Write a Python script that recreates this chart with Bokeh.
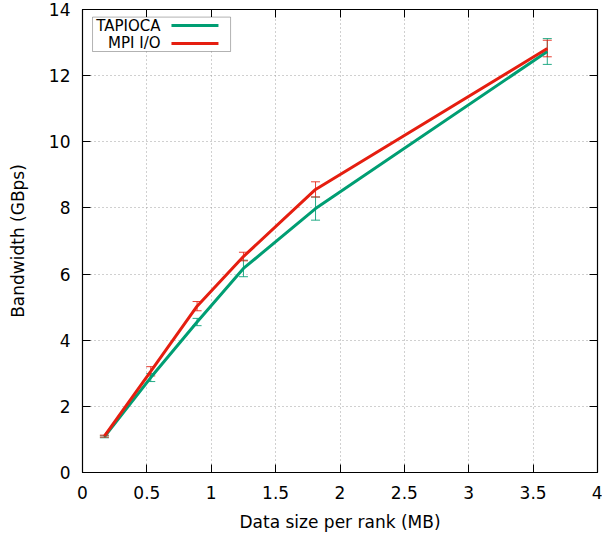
from bokeh.plotting import figure
from bokeh.models import (Whisker, TeeHead, ColumnDataSource, BoxAnnotation, Label,
                          LinearAxis, Range1d, FixedTicker, CustomJSTickFormatter)
from bokeh.embed import file_html
from bokeh.resources import INLINE

# ---- data ----
sizes_mb = [0.17, 0.53, 0.89, 1.25, 1.81, 3.61]
tapioca_bw = [1.08, 2.87, 4.55, 6.17, 7.98, 12.73]
tapioca_err = [0.03, 0.12, 0.11, 0.25, 0.35, 0.39]
mpiio_bw = [1.10, 3.06, 5.03, 6.53, 8.56, 12.82]
mpiio_err = [0.03, 0.14, 0.14, 0.13, 0.23, 0.25]
series_names = ["TAPIOCA", "MPI I/O"]
x_ticks = [0, 0.5, 1, 1.5, 2, 2.5, 3, 3.5, 4]
x_tick_labels = ["0", "0.5", "1", "1.5", "2", "2.5", "3", "3.5", "4"]
y_ticks = [0, 2, 4, 6, 8, 10, 12, 14]
y_tick_labels = ["0", "2", "4", "6", "8", "10", "12", "14"]

GREEN = "#009e73"
RED = "#e51e10"
FONT = "DejaVu Sans"
FS = "17px"
LEG_FS = "15px"

p = figure(width=602, height=539, output_backend="svg", toolbar_location=None,
           x_range=Range1d(0, 4), y_range=Range1d(0, 14),
           min_border_left=82, min_border_right=5, min_border_top=9, min_border_bottom=67,
           background_fill_color="white", border_fill_color="white")

p.outline_line_color = "black"
p.outline_line_width = 1.2

for ax in (p.xaxis[0], p.yaxis[0]):
    ax.major_tick_in = 8
    ax.major_tick_out = 0
    ax.minor_tick_line_color = None
    ax.axis_line_color = "black"
    ax.major_tick_line_color = "black"
    ax.major_label_text_font = FONT
    ax.major_label_text_font_size = FS
    ax.major_label_text_color = "black"
    ax.axis_label_text_font = FONT
    ax.axis_label_text_font_size = FS
    ax.axis_label_text_font_style = "normal"
    ax.axis_label_text_color = "black"

p.xaxis[0].ticker = FixedTicker(ticks=x_ticks)
p.xaxis[0].major_label_overrides = {t: l for t, l in zip(x_ticks, x_tick_labels)}
p.yaxis[0].ticker = FixedTicker(ticks=y_ticks)
p.yaxis[0].major_label_overrides = {t: l for t, l in zip(y_ticks, y_tick_labels)}
p.xaxis[0].axis_label = "Data size per rank (MB)"
p.yaxis[0].axis_label = "Bandwidth (GBps)"
p.xaxis[0].major_label_standoff = 13
p.xaxis[0].axis_label_standoff = 10
p.yaxis[0].major_label_standoff = 12
p.yaxis[0].axis_label_standoff = 18

# mirrored ticks (no labels)
for loc, tk in (("right", y_ticks), ("above", x_ticks)):
    a = LinearAxis(ticker=FixedTicker(ticks=tk), major_tick_in=8, major_tick_out=0,
                   minor_tick_line_color=None,
                   formatter=CustomJSTickFormatter(code="return ''"),
                   major_label_standoff=0, axis_line_color="black",
                   major_tick_line_color="black")
    p.add_layout(a, loc)

p.xgrid.ticker = FixedTicker(ticks=x_ticks)
p.ygrid.ticker = FixedTicker(ticks=y_ticks)
for g in (p.xgrid[0], p.ygrid[0]):
    g.grid_line_color = "#a0a0a0"
    g.grid_line_dash = "1 3"
    g.grid_line_width = 1

src_t = ColumnDataSource(dict(x=sizes_mb, y=tapioca_bw,
                              lo=[v - e for v, e in zip(tapioca_bw, tapioca_err)],
                              hi=[v + e for v, e in zip(tapioca_bw, tapioca_err)]))
src_m = ColumnDataSource(dict(x=sizes_mb, y=mpiio_bw,
                              lo=[v - e for v, e in zip(mpiio_bw, mpiio_err)],
                              hi=[v + e for v, e in zip(mpiio_bw, mpiio_err)]))

p.line("x", "y", source=src_t, line_color=GREEN, line_width=3)
p.line("x", "y", source=src_m, line_color=RED, line_width=3)

for src, col in ((src_t, GREEN), (src_m, RED)):
    w = Whisker(base="x", lower="lo", upper="hi", source=src, line_color=col,
                line_width=1, line_alpha=0.85,
                upper_head=TeeHead(size=9, line_color=col, line_width=1, line_alpha=0.85),
                lower_head=TeeHead(size=9, line_color=col, line_width=1, line_alpha=0.85))
    p.add_layout(w)

# legend (gnuplot style: text then line sample)
p.add_layout(BoxAnnotation(left=0.078, right=1.15, top=13.77, bottom=12.73,
                           fill_color="white", fill_alpha=1, line_color="black",
                           line_width=1, level="annotation"))
for name, col, yc in ((series_names[0], GREEN, 13.516), (series_names[1], RED, 12.972)):
    p.add_layout(Label(x=0.606, y=yc, text=name, text_align="right",
                       text_baseline="middle", text_font=FONT, text_font_size=LEG_FS,
                       text_color="black"))
    p.add_layout(BoxAnnotation(left=0.691, right=1.056, top=yc + 0.045, bottom=yc - 0.045,
                               fill_color=col, fill_alpha=1, line_color=None,
                               level="annotation"))

open("out.html", "w").write(file_html(p, INLINE))
